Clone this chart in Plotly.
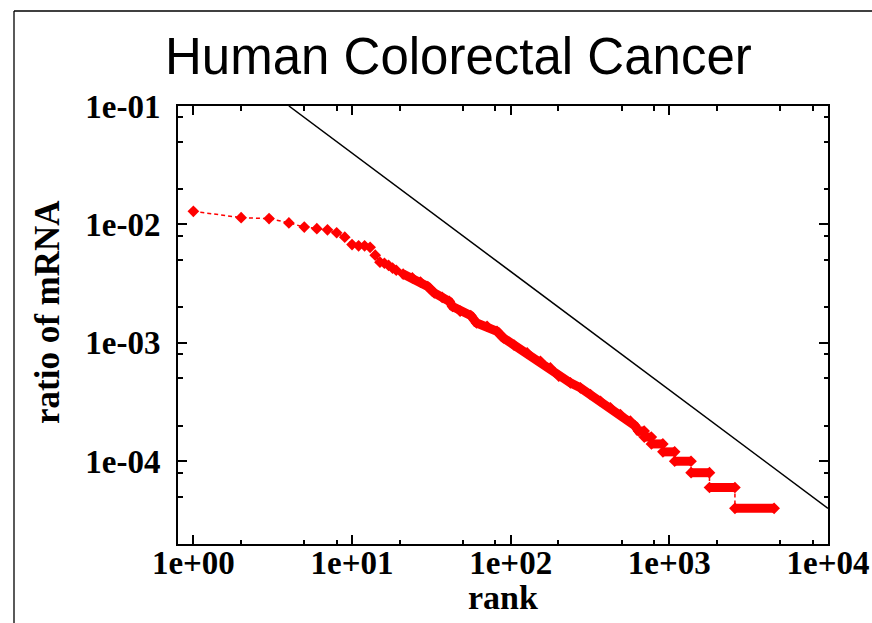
import plotly.graph_objects as go

# Most abundant transcripts, one point per rank
top_rank = [1, 2, 3, 4, 5, 6, 7, 8, 9, 10, 11, 12, 13, 14, 15]
top_ratio = [1.29e-2, 1.14e-2, 1.12e-2, 1.03e-2, 9.5e-3, 9.2e-3, 9.0e-3, 8.5e-3,
             7.8e-3, 6.75e-3, 6.6e-3, 6.6e-3, 6.4e-3, 5.5e-3, 4.8e-3]

# Mid-ranked transcripts (dense band of points)
band_rank = [16, 17, 18, 19, 21, 24, 27, 30, 33, 37, 41, 43, 48, 56, 61, 71, 82,
             90, 105, 127, 154, 178, 201, 238, 275, 318, 368, 425, 491, 568, 605]
band_ratio = [4.7e-3, 4.5e-3, 4.28e-3, 4.1e-3, 3.81e-3, 3.53e-3, 3.26e-3,
              2.99e-3, 2.64e-3, 2.42e-3, 2.24e-3, 2.03e-3, 1.85e-3, 1.70e-3,
              1.47e-3, 1.38e-3, 1.25e-3, 1.10e-3, 9.57e-4, 8.22e-4, 6.99e-4,
              6.14e-4, 5.22e-4, 4.59e-4, 4.17e-4, 3.66e-4, 3.21e-4, 2.83e-4,
              2.48e-4, 2.18e-4, 2.0e-4]

# Low-abundance tail: equal-ratio plateaus and the rank span of each
step_ratio = [1.8e-4, 1.6e-4, 1.4e-4, 1.2e-4, 1.0e-4, 8e-5, 6e-5, 4e-5]
step_first_rank = [640, 695, 771, 911, 1081, 1371, 1791, 2591]
step_last_rank = [694, 770, 910, 1080, 1370, 1790, 2590, 4575]

# Reference power law, slope -1
ref_rank = [4, 1e4]
ref_ratio = [0.1, 4e-5]

x_tick_vals = [1, 10, 100, 1000, 10000]
x_tick_text = ["1e+00", "1e+01", "1e+02", "1e+03", "1e+04"]
y_tick_vals = [1e-4, 1e-3, 1e-2, 1e-1]
y_tick_text = ["1e-04", "1e-03", "1e-02", "1e-01"]
x_minor_vals = [2, 5, 8, 20, 50, 80, 200, 500, 800, 2000, 5000, 8000]
y_minor_vals = [5e-5, 8e-5, 2e-4, 5e-4, 8e-4, 2e-3, 5e-3, 8e-3, 2e-2, 5e-2, 8e-2]

RED = "#ff0000"
MARK = 9

# full point sequence: top points, band, then plateau end points
all_rank = list(top_rank) + list(band_rank)
all_ratio = list(top_ratio) + list(band_ratio)
for r, a, b in zip(step_ratio, step_first_rank, step_last_rank):
    all_rank += [a, b]
    all_ratio += [r, r]

# thick underlay giving the merged look of densely packed markers
thick_rank = list(band_rank[4:])
thick_ratio = list(band_ratio[4:])
for i, (r, a, b) in enumerate(zip(step_ratio, step_first_rank, step_last_rank)):
    if i > 0:
        thick_rank.append(None)
        thick_ratio.append(None)
    thick_rank += [a, b]
    thick_ratio += [r, r]

fig = go.Figure()

fig.add_trace(go.Scatter(
    x=ref_rank, y=ref_ratio, mode="lines",
    line=dict(color="black", width=1.5), hoverinfo="skip", showlegend=False))

fig.add_trace(go.Scatter(
    x=thick_rank, y=thick_ratio, mode="lines", connectgaps=False,
    line=dict(color=RED, width=9), hoverinfo="skip", showlegend=False))

fig.add_trace(go.Scatter(
    x=all_rank, y=all_ratio, mode="lines+markers",
    line=dict(color=RED, width=1.5, dash="4px,3px"),
    marker=dict(symbol="diamond", size=MARK, color=RED, line=dict(width=0)),
    showlegend=False))

W, H = 872, 623
L, R, T, B = 178, 44, 106, 79
pw, ph = W - L - R, H - T - B


def px(x):
    return (x - L) / pw


def py(y):
    return (H - B - y) / ph


tick_font = dict(family="Liberation Serif", size=33, color="black", weight="bold")
axis_common = dict(
    type="log", showgrid=False, zeroline=False, automargin=False,
    showline=True, linecolor="black", linewidth=2, mirror="ticks",
    ticks="inside", ticklen=9, tickwidth=1.5, tickcolor="black",
    tickfont=tick_font,
)

fig.update_xaxes(
    **axis_common, range=[-0.09691, 4.0],
    tickmode="array", tickvals=x_tick_vals, ticktext=x_tick_text,
    ticklabelstandoff=-12,
    minor=dict(tickmode="array", tickvals=x_minor_vals, ticks="inside",
               ticklen=4.5, tickwidth=1.5, tickcolor="black", showgrid=False),
)
fig.update_yaxes(
    **axis_common, range=[-4.69897, -1.0],
    tickmode="array", tickvals=y_tick_vals, ticktext=y_tick_text,
    ticklabelstandoff=9,
    minor=dict(tickmode="array", tickvals=y_minor_vals, ticks="inside",
               ticklen=4.5, tickwidth=1.5, tickcolor="black", showgrid=False),
)

label_font = dict(family="Liberation Serif", size=34, color="black", weight="bold")

fig.update_layout(
    width=W, height=H,
    margin=dict(l=L, r=R, t=T, b=B, pad=0, autoexpand=False),
    paper_bgcolor="white", plot_bgcolor="white",
    showlegend=False,
    annotations=[
        dict(text="Human Colorectal Cancer", x=px(458.5), y=py(56),
             xref="paper", yref="paper", xanchor="center", yanchor="middle",
             showarrow=False,
             font=dict(family="Liberation Sans", size=51, color="black")),
        dict(text="rank", x=0.5, y=py(597), xref="paper", yref="paper",
             xanchor="center", yanchor="middle", showarrow=False, font=label_font),
        dict(text="ratio of mRNA", x=px(47), y=py(312), xref="paper", yref="paper",
             xanchor="center", yanchor="middle", textangle=-90, showarrow=False,
             font=dict(family="Liberation Serif", size=35, color="black",
                       weight="bold")),
    ],
    shapes=[
        dict(type="line", xref="paper", yref="paper",
             x0=px(14), y0=py(11), x1=px(14), y1=py(700),
             line=dict(color="black", width=1.3)),
        dict(type="line", xref="paper", yref="paper",
             x0=px(14), y0=py(11), x1=px(950), y1=py(11),
             line=dict(color="black", width=1.3)),
    ],
)

fig.write_html("out.html")
